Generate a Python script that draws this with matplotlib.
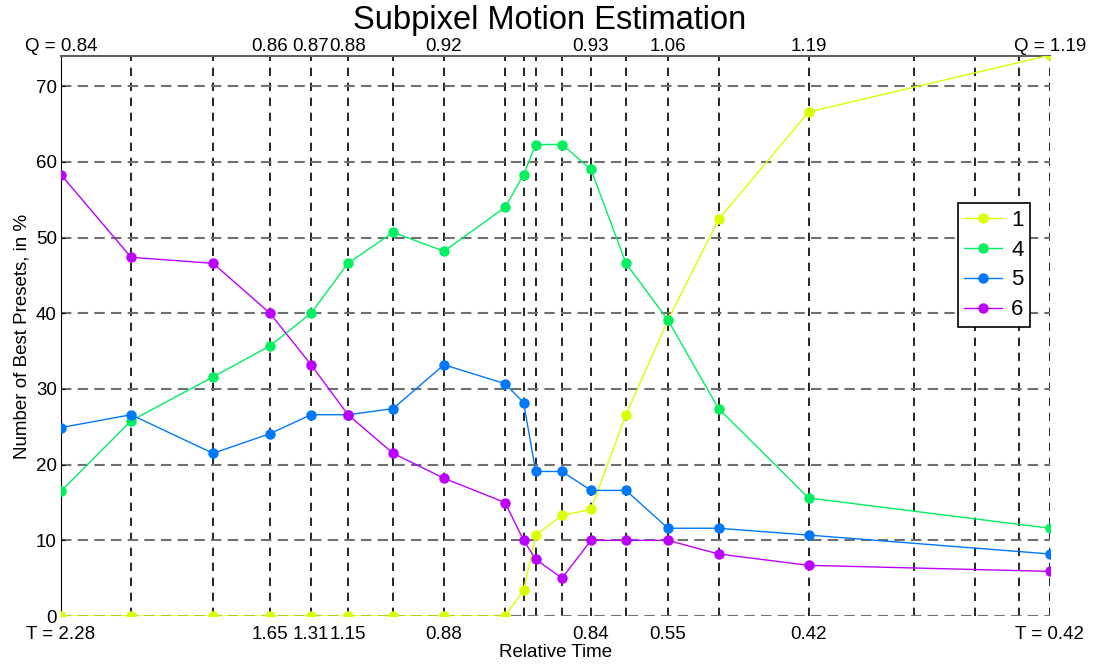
import matplotlib
matplotlib.use("Agg")
from matplotlib import pyplot as plt
import numpy as np

plt.rcParams['font.family'] = ['Liberation Sans', 'DejaVu Sans']

# positions along the x axis (arbitrary units), one per measured operating point
x = [0, 70, 152, 209, 250, 287, 332, 383, 444, 462.6, 474.7, 501, 530, 565, 607, 657.6, 747.6, 989]
# extra vertical lines without data
x_extra = [852.6, 913.6, 957.6]

preset1 = [0, 0, 0, 0, 0, 0, 0, 0, 0, 3.4, 10.7, 13.3, 14.1, 26.6, 39.1, 52.4, 66.6, 74.1]
preset4 = [16.5, 25.8, 31.6, 35.7, 40.0, 46.6, 50.7, 48.2, 54.0, 58.3, 62.3, 62.3, 59.0, 46.6, 39.1, 27.4, 15.6, 11.6]
preset5 = [24.9, 26.6, 21.5, 24.1, 26.6, 26.6, 27.4, 33.2, 30.7, 28.2, 19.1, 19.1, 16.6, 16.6, 11.6, 11.6, 10.7, 8.2]
preset6 = [58.3, 47.4, 46.6, 40.0, 33.2, 26.6, 21.5, 18.2, 15.0, 10.0, 7.5, 5.0, 10.0, 10.0, 10.0, 8.2, 6.7, 5.9]
names = ['1', '4', '5', '6']
colors = ['#dcff00', '#00f060', '#0077ff', '#bb00ff']

# labelled positions (indices into x)
lab_idx = [0, 3, 4, 5, 7, 12, 14, 16, 17]
q_labels = ['Q = 0.84', '0.86', '0.87', '0.88', '0.92', '0.93', '1.06', '1.19', 'Q = 1.19']
t_labels = ['T = 2.28', '1.65', '1.31', '1.15', '0.88', '0.84', '0.55', '0.42', 'T = 0.42']

fs = 13.5

fig = plt.figure(figsize=(11, 6.66), dpi=100)
ax = fig.add_axes([0.0555, 0.075, 0.899, 0.841])

for y, c, n in zip([preset1, preset4, preset5, preset6], colors, names):
    ax.plot(x, y, '-o', color=c, lw=1.0, ms=6.5, label=n, zorder=3)

ax.set_xlim(x[0], x[-1])
ax.set_ylim(0, 74)
ax.set_yticks(range(0, 80, 10))

all_x = sorted(x + x_extra)
ax.set_xticks(all_x)
lab_map = {x[i]: t for i, t in zip(lab_idx, t_labels)}
ax.set_xticklabels([lab_map.get(v, '') for v in all_x], fontsize=fs)
ax.tick_params(axis='x', length=0, pad=7)
ax.tick_params(axis='y', length=3, direction='in', labelsize=fs, pad=3)
for t in ax.get_yticklabels():
    t.set_verticalalignment('center_baseline')

ax.xaxis.grid(True, color='black', ls=(0, (5, 4)), lw=1.2)
ax.yaxis.grid(True, color='#707070', ls=(0, (5, 3)), lw=1.5)
ax.set_axisbelow(True)

ax.spines['right'].set_visible(False)
ax.spines['bottom'].set_visible(False)
ax.spines['left'].set_color('black')
ax.spines['top'].set_color('#606060')
ax.spines['top'].set_linewidth(1.5)

top = ax.secondary_xaxis('top')
top.set_xticks([x[i] for i in lab_idx])
top.set_xticklabels(q_labels, fontsize=fs)
top.tick_params(length=0, pad=1)
top.spines['top'].set_visible(False)

ax.set_xlabel('Relative Time', fontsize=fs, labelpad=1)
ax.set_ylabel('Number of Best Presets, in %', fontsize=fs, labelpad=4)
fig.text(0.5, 1 - 20 / 666, 'Subpixel Motion Estimation', fontsize=23.5,
         ha='center', va='center')

leg = ax.legend(loc='upper right', bbox_to_anchor=(0.98, 0.7375), borderaxespad=0,
                fontsize=16, fancybox=False, framealpha=1, edgecolor='black',
                handlelength=1.7, borderpad=0.3, labelspacing=0.4, handletextpad=0.4)
leg.get_frame().set_linewidth(1.2)

fig.savefig('out.png', dpi=100)
